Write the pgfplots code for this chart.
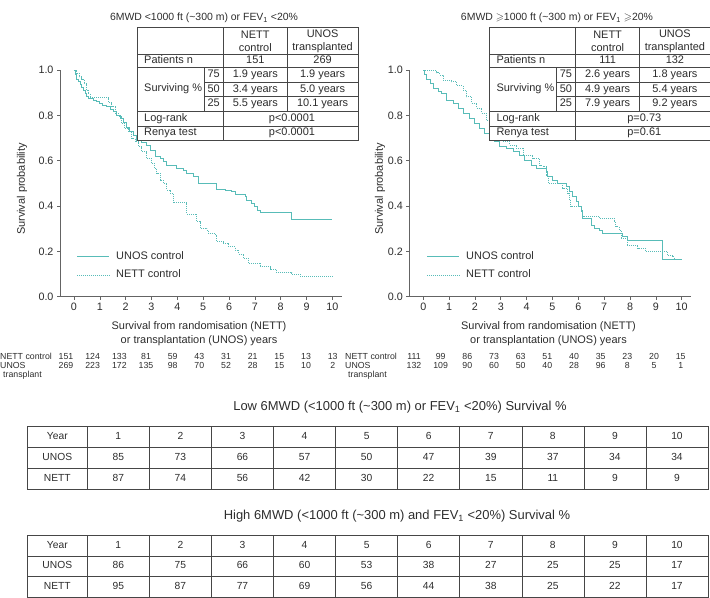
\documentclass[border=0pt]{standalone}
\usepackage{pgfplots}
\pgfplotsset{compat=1.18}
\usepackage{amssymb}
\usepackage{fontspec}
\setmainfont{Liberation Sans}
\definecolor{kmc}{RGB}{88,188,184}
\definecolor{txt}{RGB}{45,45,45}
\definecolor{axg}{RGB}{100,100,100}
\definecolor{tbl}{RGB}{70,70,70}
\newcommand\fs{\fontsize{11}{13}\selectfont}
\newcommand\fst{\fontsize{10.5}{12.5}\selectfont}
\newcommand\fsl{\fontsize{11}{14}\selectfont}
\newcommand\fss{\fontsize{8.8}{10}\selectfont}
\newcommand\fsb{\fontsize{10.3}{12}\selectfont}
\newcommand\fsbt{\fontsize{13}{15}\selectfont}

\pgfplotsset{kmaxis/.style={
  scale only axis, width=281.7bp, height=226.7bp,
  xmin=-0.54, xmax=10.36, ymin=0, ymax=1,
  axis x line=bottom, axis y line=left,
  axis line style={-, axg, line width=0.6pt},
  every outer x axis line/.append style={-},
  every outer y axis line/.append style={-},
  every inner x axis line/.append style={-},
  every inner y axis line/.append style={-},
  tick align=outside, major tick length=3bp,
  tick style={axg, line width=0.6pt},
  xtick={0,1,2,3,4,5,6,7,8,9,10}, ytick={0,0.2,0.4,0.6,0.8,1},
  yticklabel style={/pgf/number format/.cd, fixed, fixed zerofill, precision=1},
  /pgf/number format/assume math mode=true,
  ticklabel style={font=\fontsize{10.8}{12.5}\selectfont, text=txt},
}}

\begin{document}
\begin{tikzpicture}
\path[use as bounding box] (0,0) rectangle (710bp,-598bp);

% ---------------- left KM plot ----------------
\begin{axis}[kmaxis, at={(60bp,-296.7bp)}, anchor=south west]
\addplot[kmc, line width=0.8pt, const plot] coordinates {
(0,1.0) (0.05,0.98) (0.1,0.96) (0.17,0.95) (0.25,0.935) (0.3,0.925) (0.38,0.91)
(0.43,0.897) (0.5,0.885) (0.55,0.875) (0.74,0.868) (0.85,0.86) (1.0,0.853)
(1.1,0.845) (1.26,0.838) (1.4,0.828) (1.52,0.816) (1.65,0.80) (1.78,0.787)
(1.9,0.77) (2.04,0.745) (2.15,0.73) (2.3,0.71) (2.43,0.69) (2.6,0.68)
(2.81,0.669) (2.94,0.645) (3.14,0.618) (3.33,0.61) (3.45,0.595) (3.59,0.58)
(3.97,0.566) (4.23,0.559) (4.36,0.544) (4.62,0.529) (4.81,0.50) (5.52,0.474)
(5.85,0.471) (6.1,0.463) (6.23,0.452) (6.62,0.441) (6.68,0.427) (6.87,0.412)
(7.0,0.397) (7.1,0.382) (7.2,0.37) (8.43,0.34) (10.0,0.34)};
\addplot[kmc, line width=0.8pt, const plot, dash pattern=on 1pt off 1pt] coordinates {
(0,1.0) (0.1,0.985) (0.2,0.97) (0.3,0.96) (0.4,0.94) (0.5,0.91) (0.55,0.897)
(0.62,0.878) (1.33,0.855) (1.46,0.838) (1.59,0.809) (1.72,0.794) (1.85,0.765)
(1.97,0.743) (2.1,0.728) (2.23,0.699) (2.36,0.684) (2.49,0.662) (2.62,0.64)
(2.81,0.61) (3.01,0.588) (3.1,0.566) (3.2,0.544) (3.33,0.515) (3.46,0.50)
(3.59,0.471) (3.72,0.456) (3.84,0.415) (4.36,0.365) (4.75,0.331) (4.88,0.302)
(5.14,0.294) (5.2,0.28) (5.46,0.272) (5.52,0.243) (5.78,0.235) (5.97,0.22)
(6.23,0.206) (6.36,0.188) (6.55,0.169) (6.75,0.147) (7.2,0.132) (7.59,0.121)
(7.85,0.106) (8.43,0.10) (8.75,0.091) (10.0,0.091)};
\end{axis}

% ---------------- right KM plot ----------------
\begin{axis}[kmaxis, at={(409.3bp,-296.7bp)}, anchor=south west]
\addplot[kmc, line width=0.8pt, const plot] coordinates {
(0,1.0) (0.05,0.98) (0.12,0.96) (0.26,0.941) (0.39,0.919) (0.58,0.904)
(0.71,0.897) (0.9,0.868) (1.16,0.853) (1.35,0.831) (1.54,0.809) (1.8,0.787)
(1.99,0.765) (2.19,0.743) (2.38,0.721) (2.57,0.706) (2.76,0.684) (2.96,0.665)
(3.21,0.655) (3.47,0.640) (3.73,0.625) (3.92,0.603) (4.18,0.581) (4.37,0.566)
(4.76,0.551) (4.82,0.529) (5.01,0.515) (5.2,0.50) (5.53,0.485) (5.66,0.463)
(5.78,0.441) (5.91,0.419) (6.01,0.397) (6.11,0.375) (6.17,0.346) (6.49,0.316)
(6.62,0.302) (6.81,0.294) (6.94,0.28) (7.71,0.265) (7.9,0.25) (9.25,0.165)
(10.02,0.165)};
\addplot[kmc, line width=0.8pt, const plot, dash pattern=on 1pt off 1pt] coordinates {
(0,1.0) (0.52,0.988) (0.64,0.978) (0.77,0.956) (1.09,0.948) (1.3,0.93)
(1.54,0.912) (1.67,0.882) (1.87,0.853) (2.06,0.831) (2.25,0.809) (2.44,0.779)
(2.6,0.76) (2.75,0.73) (2.9,0.70) (3.1,0.685) (3.34,0.669) (3.6,0.655)
(3.86,0.625) (4.24,0.610) (4.5,0.581) (4.63,0.573) (4.76,0.537) (4.86,0.50)
(5.4,0.478) (5.59,0.456) (5.66,0.427) (5.7,0.40) (6.11,0.382) (6.17,0.356)
(6.81,0.346) (7.39,0.331) (7.45,0.309) (7.58,0.294) (7.65,0.257) (7.9,0.228)
(8.29,0.213) (8.61,0.199) (9.44,0.18) (9.64,0.176) (9.7,0.165) (10.0,0.165)};
\end{axis}

% ---------------- legends ----------------
\foreach \lx in {77,427}{
  \draw[kmc, line width=0.8pt] (\lx bp,-256.7bp) -- ({\lx bp+32bp},-256.7bp);
  \draw[kmc, line width=0.8pt, dash pattern=on 1pt off 1pt] (\lx bp,-275bp) -- ({\lx bp+32bp},-275bp);
  \node[inner sep=0pt, anchor=mid west, font=\fsl, text=txt] at ({\lx bp+39bp},-256.7bp) {UNOS control};
  \node[inner sep=0pt, anchor=mid west, font=\fsl, text=txt] at ({\lx bp+39bp},-275bp) {NETT control};
}

\begin{scope}[every node/.style={inner sep=0pt, font=\fsl, text=txt}]
% titles
\node[font=\fst] at (204bp,-18bp) {6MWD <1000 ft (\textasciitilde300 m) or FEV\textsubscript{1} <20\%};
\node[font=\fst] at (557bp,-18bp) {6MWD $\geqslant$1000 ft (\textasciitilde300 m) or FEV\textsubscript{1} $\geqslant$20\%};
% axis labels
\node[rotate=90] at (22bp,-189bp) {Survival probability};
\node[rotate=90] at (380bp,-189bp) {Survival probability};
\node[align=center] at (199bp,-333.7bp) {Survival from randomisation (NETT)\\or transplantation (UNOS) years};
\node[align=center] at (548.5bp,-333.7bp) {Survival from randomisation (NETT)\\or transplantation (UNOS) years};
\end{scope}

% ---------------- inset tables ----------------
\foreach \xo/\na/\nb/\aa/\ab/\ba/\bb/\ca/\cb/\pa/\pb in
 {137/151/269/1.9/1.9/3.4/5.0/5.5/10.1/p<0.0001/p<0.0001,
  489.3/111/132/2.6/1.8/4.9/5.4/7.9/9.2/p=0.73/p=0.61}{
\begin{scope}[shift={(\xo bp,-27bp)}, every node/.style={inner sep=0pt, font=\fs, text=txt}]
\fill[white] (0,0) rectangle (221bp,-113bp);
\begin{scope}[draw=tbl, line width=0.5pt]
\draw (0,0) rectangle (221bp,-113bp);
\draw (0,-27bp) -- (221bp,-27bp);
\draw (0,-40.7bp) -- (221bp,-40.7bp);
\draw (67bp,-55.7bp) -- (221bp,-55.7bp);
\draw (67bp,-69.7bp) -- (221bp,-69.7bp);
\draw (0,-84bp) -- (221bp,-84bp);
\draw (0,-99bp) -- (221bp,-99bp);
\draw (86.3bp,0) -- (86.3bp,-113bp);
\draw (150.3bp,0) -- (150.3bp,-84bp);
\draw (67bp,-40.7bp) -- (67bp,-84bp);
\end{scope}
\node[align=center, font=\fontsize{11}{13.3}\selectfont] at (118.3bp,-14bp) {NETT\\control};
\node[align=center, font=\fontsize{11}{13.3}\selectfont] at (185.6bp,-14bp) {UNOS\\transplanted};
\node[anchor=mid west] at (7bp,-33.8bp) {Patients n};
\node[anchor=mid] at (118.3bp,-33.8bp) {\na};
\node[anchor=mid] at (185.6bp,-33.8bp) {\nb};
\node[anchor=mid west] at (7bp,-62.3bp) {Surviving \%};
\node[anchor=mid] at (76.6bp,-48.2bp) {75};
\node[anchor=mid] at (76.6bp,-62.7bp) {50};
\node[anchor=mid] at (76.6bp,-76.8bp) {25};
\node[anchor=mid] at (118.3bp,-48.2bp) {\aa{} years};
\node[anchor=mid] at (185.6bp,-48.2bp) {\ab{} years};
\node[anchor=mid] at (118.3bp,-62.7bp) {\ba{} years};
\node[anchor=mid] at (185.6bp,-62.7bp) {\bb{} years};
\node[anchor=mid] at (118.3bp,-76.8bp) {\ca{} years};
\node[anchor=mid] at (185.6bp,-76.8bp) {\cb{} years};
\node[anchor=mid west] at (7bp,-91.5bp) {Log-rank};
\node[anchor=mid west] at (7bp,-106bp) {Renya test};
\node[anchor=mid] at (155bp,-91.5bp) {\pa};
\node[anchor=mid] at (155bp,-106bp) {\pb};
\end{scope}
}

% ---------------- numbers at risk ----------------
\begin{scope}[every node/.style={inner sep=0pt, font=\fss, text=txt}]
\node[anchor=mid west] at (0bp,-357bp) {NETT control};
\node[anchor=mid west] at (0bp,-366bp) {UNOS};
\node[anchor=mid west] at (3bp,-375bp) {transplant};
\node[anchor=mid west] at (345bp,-357bp) {NETT control};
\node[anchor=mid west] at (345bp,-366bp) {UNOS};
\node[anchor=mid west] at (348bp,-375bp) {transplant};
\foreach \v [count=\c from 0] in {151,124,133,81,59,43,31,21,15,13,13}
  \node[anchor=mid] at ({66bp+26.67bp*\c},-357bp) {\v};
\foreach \v [count=\c from 0] in {269,223,172,135,98,70,52,28,15,10,2}
  \node[anchor=mid] at ({66bp+26.67bp*\c},-366bp) {\v};
\foreach \v [count=\c from 0] in {111,99,86,73,63,51,40,35,23,20,15}
  \node[anchor=mid] at ({414bp+26.67bp*\c},-357bp) {\v};
\foreach \v [count=\c from 0] in {132,109,90,60,50,40,28,96,8,5,1}
  \node[anchor=mid] at ({414bp+26.67bp*\c},-366bp) {\v};
\end{scope}

% ---------------- bottom tables ----------------
\begin{scope}[every node/.style={inner sep=0pt, font=\fsb, text=txt}]
\node[font=\fsbt] at (400bp,-407.3bp) {Low 6MWD (<1000 ft (\textasciitilde300 m) or FEV\textsubscript{1} <20\%) Survival \%};
\node[font=\fsbt] at (397bp,-516bp) {High 6MWD (<1000 ft (\textasciitilde300 m) and FEV\textsubscript{1} <20\%) Survival \%};
\foreach \top/\ua/\ub in {426.7/{85,73,66,57,50,47,39,37,34,34}/{87,74,56,42,30,22,15,11,9,9},
                        535/{86,75,66,60,53,38,27,25,25,17}/{95,87,77,69,56,44,38,25,22,17}}{
  \draw[tbl, line width=0.5pt] (27bp,-\top bp) rectangle (708bp,{-\top bp-62.4bp});
  \draw[tbl, line width=0.5pt] (27bp,{-\top bp-20.8bp}) -- (708bp,{-\top bp-20.8bp});
  \draw[tbl, line width=0.5pt] (27bp,{-\top bp-41.6bp}) -- (708bp,{-\top bp-41.6bp});
  \foreach \k in {0,...,9}
    \draw[tbl, line width=0.5pt] ({87.3bp+62.07bp*\k},-\top bp) -- ({87.3bp+62.07bp*\k},{-\top bp-62.4bp});
  \node[anchor=mid] at (57.3bp,{-\top bp-10.4bp}) {Year};
  \node[anchor=mid] at (57.3bp,{-\top bp-31.2bp}) {UNOS};
  \node[anchor=mid] at (57.3bp,{-\top bp-52bp}) {NETT};
  \foreach \k in {1,...,10}
    \node[anchor=mid] at ({87.3bp+62.07bp*(\k-0.5)},{-\top bp-10.4bp}) {\k};
  \foreach \v [count=\k] in \ua
    \node[anchor=mid] at ({87.3bp+62.07bp*(\k-0.5)},{-\top bp-31.2bp}) {\v};
  \foreach \v [count=\k] in \ub
    \node[anchor=mid] at ({87.3bp+62.07bp*(\k-0.5)},{-\top bp-52bp}) {\v};
}
\end{scope}
\end{tikzpicture}
\end{document}
